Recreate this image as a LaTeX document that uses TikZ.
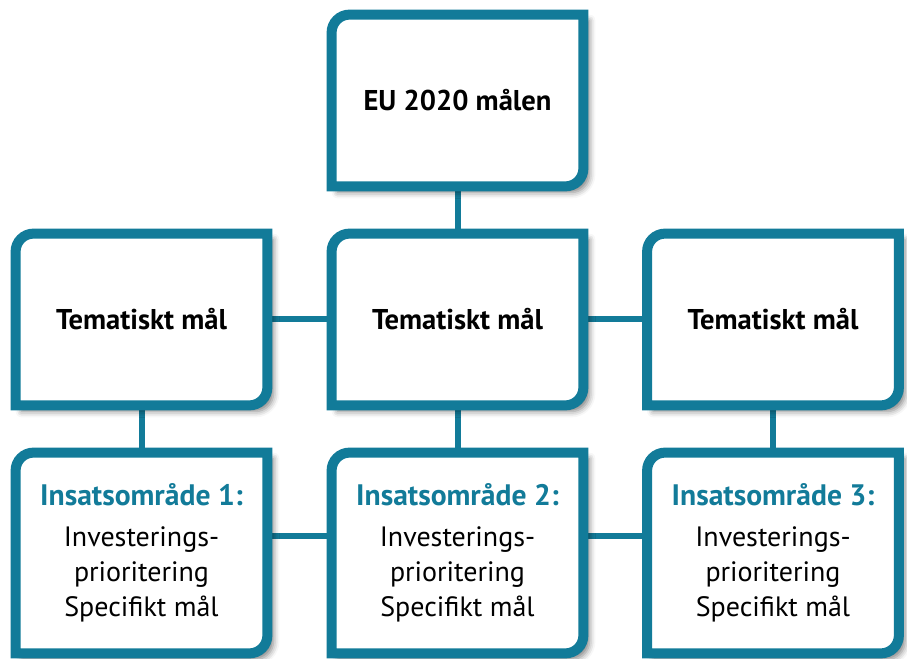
\documentclass[tikz,border=0pt]{standalone}
\usepackage{fontspec}
\setmainfont{PT Sans}
\usetikzlibrary{shadows.blur}
\definecolor{malbla}{RGB}{18,123,153}
\pgfdeclarelayer{bakgrund}
\pgfsetlayers{bakgrund,main}
\newcommand\hornr{9pt}
% ram med rundat hörn uppe till vänster och nere till höger
\newcommand\malram[1]{%
  \draw[ramlinje] (#1.south west) -- ([yshift=-\hornr]#1.north west)
    arc[start angle=180,end angle=90,radius=\hornr] -- (#1.north east)
    -- ([yshift=\hornr]#1.south east)
    arc[start angle=0,end angle=-90,radius=\hornr] -- cycle;}

\begin{document}
\begin{tikzpicture}[x=0.5pt,y=0.5pt,
    malbox/.style={minimum width=125.5pt,minimum height=85.5pt,inner sep=0pt,align=center,
      font=\bfseries\fontsize{14.3}{17}\selectfont},
    insbox/.style={minimum width=125.5pt,minimum height=100pt,inner sep=0pt,align=center,
      font=\fontsize{14}{17.5}\selectfont},
    ramlinje/.style={draw=malbla,line width=5pt,fill=white,
      blur shadow={shadow xshift=3pt,shadow yshift=-3pt,shadow blur radius=3pt,shadow opacity=50}},
    koppling/.style={draw=malbla,line width=3pt}]
    \useasboundingbox (0,0) rectangle (907,659);
    % noder
    \node[malbox] (eu) at (457.5,558.5) {EU 2020 målen};
    \node[malbox] (tm1) at (141.5,339.5) {Tematiskt mål};
    \node[malbox] (tm2) at (457.5,339.5) {Tematiskt mål};
    \node[malbox] (tm3) at (773,339.5) {Tematiskt mål};
    \node[insbox] (ins1) at (141.5,106) {{\bfseries\fontsize{14.8}{17.5}\selectfont\color{malbla}Insatsområde 1:}\\[3pt]Investerings-\\prioritering\\Specifikt mål};
    \node[insbox] (ins2) at (457.5,106) {{\bfseries\fontsize{14.8}{17.5}\selectfont\color{malbla}Insatsområde 2:}\\[3pt]Investerings-\\prioritering\\Specifikt mål};
    \node[insbox] (ins3) at (773,106) {{\bfseries\fontsize{14.8}{17.5}\selectfont\color{malbla}Insatsområde 3:}\\[3pt]Investerings-\\prioritering\\Specifikt mål};
    \begin{pgfonlayer}{bakgrund}
        % kopplingar
        \draw[koppling] (eu) -- (tm2);
        \draw[koppling] (tm1) -- (tm2);
        \draw[koppling] (tm2) -- (tm3);
        \draw[koppling] (tm1) -- (ins1);
        \draw[koppling] (tm2) -- (ins2);
        \draw[koppling] (tm3) -- (ins3);
        \draw[koppling] ([yshift=8.5pt]ins1.east) -- ([yshift=8.5pt]ins2.west);
        \draw[koppling] ([yshift=8.5pt]ins2.east) -- ([yshift=8.5pt]ins3.west);
        % ramar
        \malram{eu}
        \malram{tm1}
        \malram{tm2}
        \malram{tm3}
        \malram{ins1}
        \malram{ins2}
        \malram{ins3}
    \end{pgfonlayer}
\end{tikzpicture}
\end{document}
